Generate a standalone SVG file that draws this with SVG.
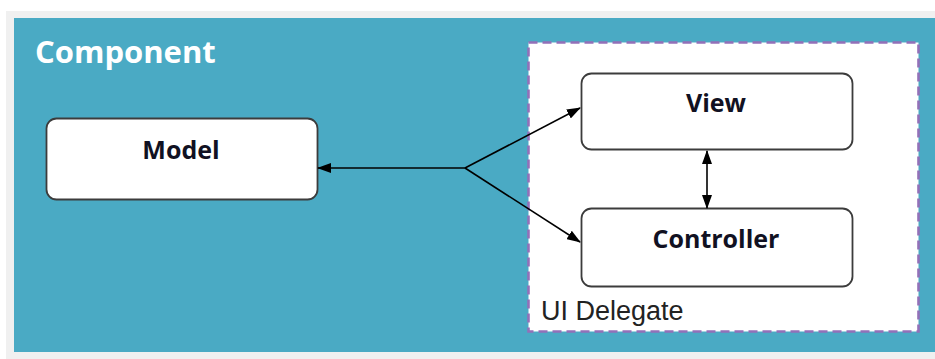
<svg xmlns="http://www.w3.org/2000/svg" width="935" height="359" viewBox="0 0 935 359">
  <style>
    .node { fill: #ffffff; stroke: #3c3c3c; stroke-width: 1.8; }
    .label { font-family: "Open Sans", "DejaVu Sans", sans-serif; font-weight: bold; font-size: 25px; fill: #111122; text-anchor: middle; }
    .title { font-family: "Open Sans", "DejaVu Sans", sans-serif; font-weight: bold; font-size: 31px; fill: #ffffff; }
    .delegate-label { font-family: "Liberation Sans", Arial, sans-serif; font-size: 27px; fill: #222222; }
    .link { stroke: #000000; stroke-width: 1.6; fill: none; }
  </style>
  <defs>
    <marker id="arrow" viewBox="0 0 14 10" refX="13" refY="5" markerWidth="14" markerHeight="10" markerUnits="userSpaceOnUse" orient="auto-start-reverse">
      <path d="M0,0 L14,5 L0,10 Z" fill="#000000"/>
    </marker>
  </defs>

  <!-- backdrop -->
  <rect x="0" y="0" width="935" height="359" fill="#ffffff"/>
  <rect x="6" y="11" width="929" height="348" fill="#f0f0f0"/>

  <!-- component container -->
  <g id="component">
    <rect x="14" y="18" width="921" height="334" fill="#4aaac4"/>
    <text class="title" x="35" y="63">Component</text>
  </g>

  <!-- UI delegate container -->
  <g id="ui-delegate">
    <rect x="528.5" y="42.5" width="390" height="289" fill="#ffffff" stroke="#9370b8" stroke-width="2.6" stroke-dasharray="9,5"/>
    <text class="delegate-label" x="541" y="320">UI Delegate</text>
  </g>

  <g id="model">
    <rect class="node" x="46.5" y="118.5" width="271" height="81" rx="10"/>
    <text class="label" x="181" y="159">Model</text>
  </g>

  <g id="view">
    <rect class="node" x="581.5" y="73.5" width="271" height="76" rx="10"/>
    <text class="label" x="716" y="112">View</text>
  </g>

  <g id="controller">
    <rect class="node" x="581.5" y="208.5" width="271" height="78" rx="10"/>
    <text class="label" x="716" y="248">Controller</text>
  </g>

  <!-- connectors -->
  <g id="connectors">
    <line class="link" x1="465" y1="168" x2="318" y2="168" marker-end="url(#arrow)"/>
    <line class="link" x1="465" y1="168" x2="580" y2="108" marker-end="url(#arrow)"/>
    <line class="link" x1="465" y1="168" x2="580" y2="242" marker-end="url(#arrow)"/>
    <line class="link" x1="707" y1="151" x2="707" y2="208" marker-start="url(#arrow)" marker-end="url(#arrow)"/>
  </g>
</svg>
